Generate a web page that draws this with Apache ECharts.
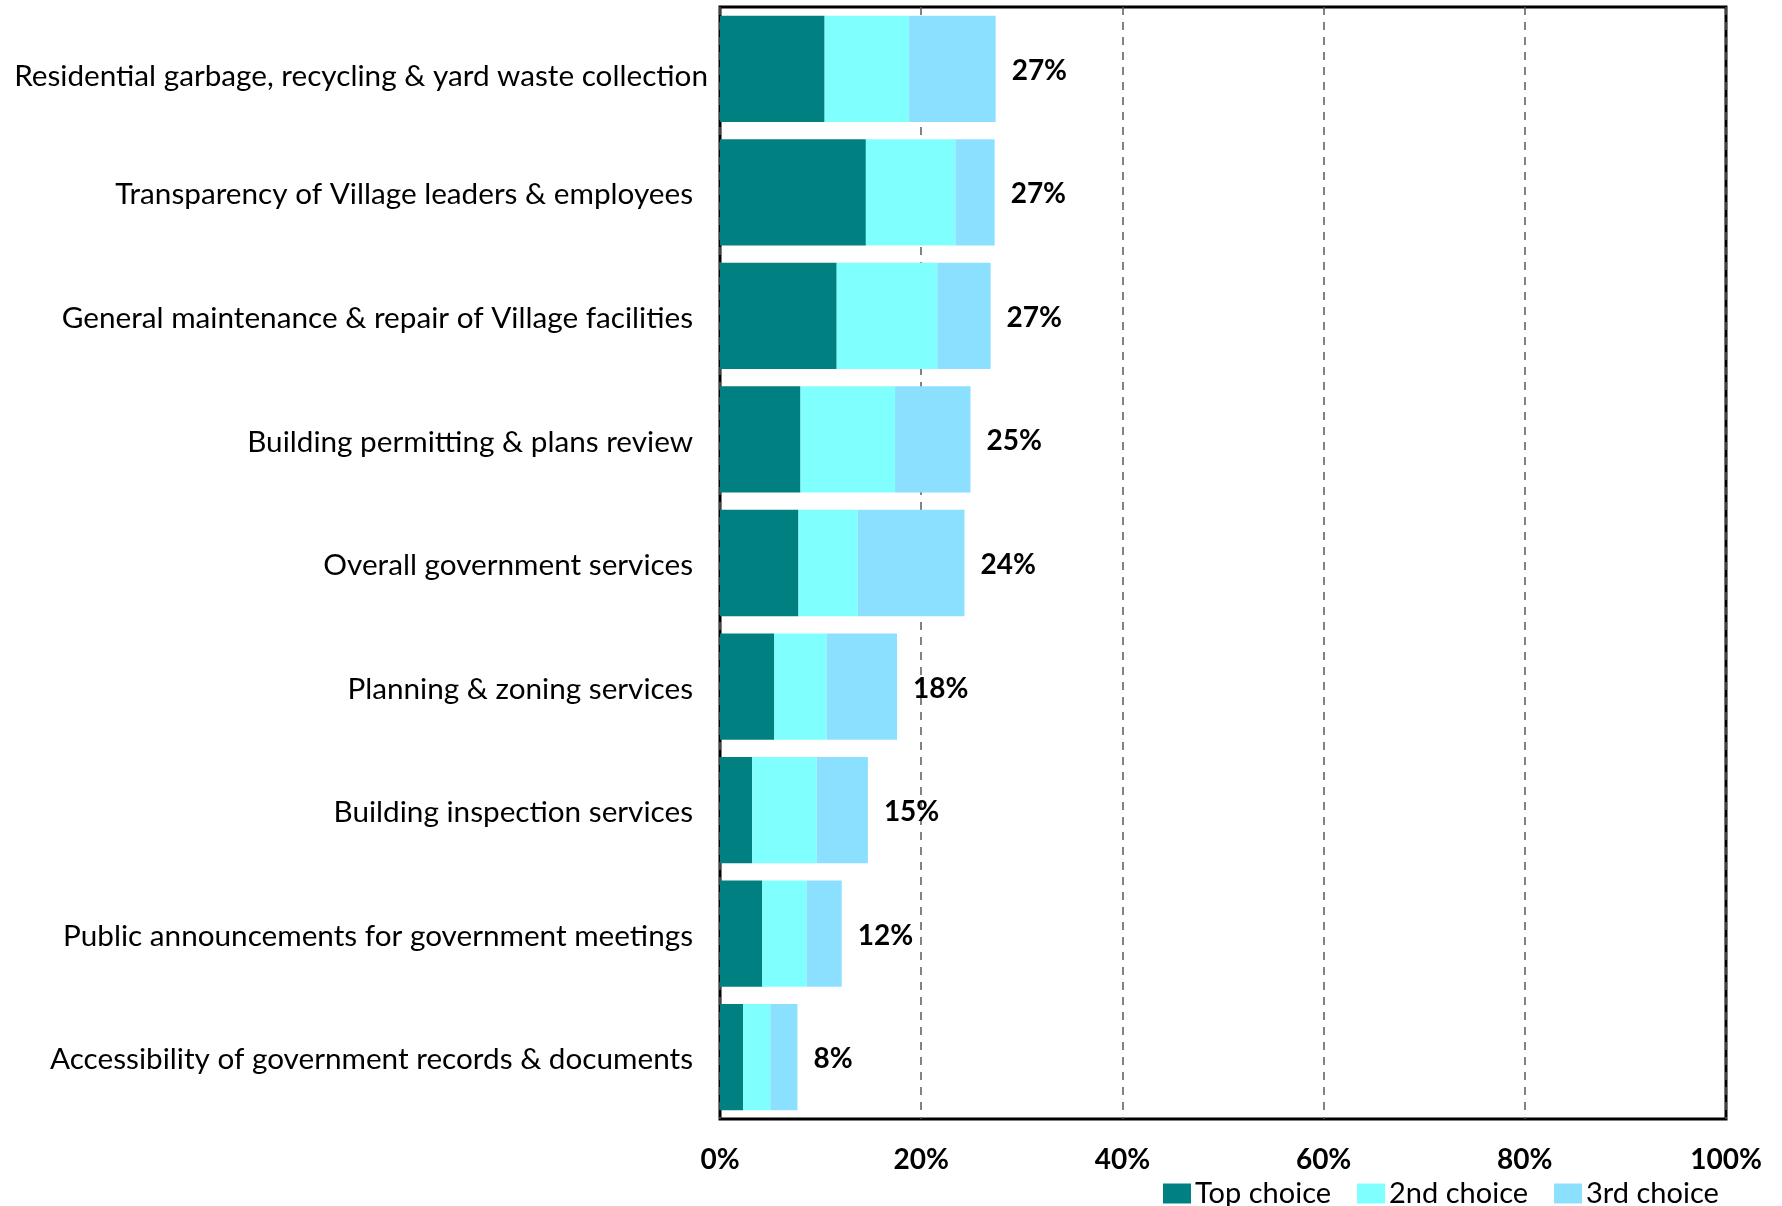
<!DOCTYPE html>
<html>
<head>
<meta charset="utf-8">
<title>Service priorities</title>
<script src="https://cdn.jsdelivr.net/npm/echarts@6/dist/echarts.min.js"></script>
<style>
  html, body { margin: 0; padding: 0; background: #fff; }
  #chart { width: 1782px; height: 1206px; }
</style>
</head>
<body>
<div id="chart"></div>
<script>
// Services, listed top to bottom
const categories = [
  'Residential garbage, recycling & yard waste collection',
  'Transparency of Village leaders & employees',
  'General maintenance & repair of Village facilities',
  'Building permitting & plans review',
  'Overall government services',
  'Planning & zoning services',
  'Building inspection services',
  'Public announcements for government meetings',
  'Accessibility of government records & documents'
];

// Share of respondents (%) naming each service as 1st, 2nd and 3rd choice
const topChoice    = [10.4, 14.5, 11.6, 8.0, 7.8, 5.4, 3.2, 4.2, 2.3];
const secondChoice = [ 8.4,  8.9, 10.0, 9.4, 5.9, 5.2, 6.4, 4.4, 2.7];
const thirdChoice  = [ 8.6,  3.9,  5.3, 7.5, 10.6, 7.0, 5.1, 3.5, 2.7];

const seriesNames = ['Top choice', '2nd choice', '3rd choice'];
const xTicks = [0, 20, 40, 60, 80, 100];

const totals = categories.map((_, i) => topChoice[i] + secondChoice[i] + thirdChoice[i]);

const FONT = 'Lato';

const chart = echarts.init(document.getElementById('chart'), null, { renderer: 'canvas' });

chart.setOption({
  animation: false,
  backgroundColor: '#ffffff',
  textStyle: { fontFamily: FONT, color: '#000' },
  grid: {
    left: 720, right: 56, top: 7, bottom: 87,
    show: true, borderColor: '#000', borderWidth: 3, backgroundColor: 'transparent'
  },
  legend: {
    data: seriesNames,
    left: 1158, top: 1174,
    itemWidth: 28, itemHeight: 20, itemGap: 26,
    icon: 'rect',
    textStyle: { fontFamily: FONT, fontSize: 29, color: '#000', padding: [0, 0, 0, -1] }
  },
  xAxis: {
    type: 'value',
    min: xTicks[0], max: xTicks[xTicks.length - 1], interval: 20,
    axisLine: { show: false },
    axisTick: { show: false },
    splitLine: { show: true, lineStyle: { color: '#595959', width: 1.5, type: [8, 7] } },
    axisLabel: {
      margin: 27,
      formatter: v => v + '%',
      fontFamily: FONT, fontSize: 28, fontWeight: 'bold', color: '#000'
    }
  },
  yAxis: {
    type: 'category',
    data: categories,
    inverse: true,
    axisLine: { show: false },
    axisTick: { show: false },
    splitLine: { show: false },
    axisLabel: {
      margin: 12,
      formatter: (v, i) => i === 0 ? '{a|' + v + '}' : '{b|' + v + '}',
      rich: {
        a: { fontFamily: FONT, fontSize: 29.7, color: '#000', padding: [16, 0, 0, 0] },
        b: { fontFamily: FONT, fontSize: 29.7, color: '#000', padding: [5, 15, 0, 0] }
      }
    }
  },
  series: [
    {
      name: seriesNames[0], type: 'bar', stack: 'all', data: topChoice,
      barCategoryGap: '14%',
      itemStyle: { color: '#008080' }
    },
    {
      name: seriesNames[1], type: 'bar', stack: 'all', data: secondChoice,
      itemStyle: { color: '#80FFFF' }
    },
    {
      name: seriesNames[2], type: 'bar', stack: 'all', data: thirdChoice,
      itemStyle: { color: '#8CE0FF' },
      label: {
        show: true, position: 'right', distance: 16, offset: [0, 2],
        formatter: p => Math.round(totals[p.dataIndex]) + '%',
        fontFamily: FONT, fontSize: 28, fontWeight: 'bold', color: '#000'
      }
    }
  ]
});
</script>
</body>
</html>
